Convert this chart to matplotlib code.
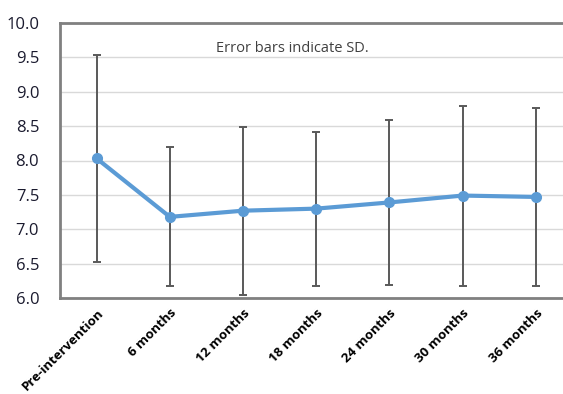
# time course of the mean score with SD error bars

import matplotlib.pyplot as plt
import numpy as np

labels = ["Pre-intervention", "6 months", "12 months", "18 months",
          "24 months", "30 months", "36 months"]
means = [8.03, 7.18, 7.27, 7.30, 7.39, 7.49, 7.47]
sds = [1.50, 1.01, 1.22, 1.12, 1.20, 1.31, 1.29]

plt.rcParams['font.family'] = ['Open Sans', 'DejaVu Sans']

fig = plt.figure(figsize=(5.63, 3.94), dpi=100)
ax = fig.add_axes([60 / 563, 1 - 298 / 394, (572.5 - 60) / 563, 275 / 394])

x = np.arange(len(labels))
ax.errorbar(x, means, yerr=sds, fmt="none", ecolor="#595959", elinewidth=1.4,
            capsize=3, capthick=1.4, zorder=2)
ax.plot(x, means, color="#5B9BD5", lw=3, marker="o", markersize=7, zorder=3)

ax.set_xlim(-0.5, 6.5)
ax.set_ylim(6.0, 10.0)
ax.set_yticks(np.arange(6.0, 10.01, 0.5))
ax.set_yticklabels([f"{v:.1f}" for v in np.arange(6.0, 10.01, 0.5)])
ax.yaxis.grid(True, color="#D9D9D9", lw=1)
ax.set_axisbelow(True)
ax.tick_params(axis="y", length=0, pad=15, labelsize=12, labelcolor="#1a1a2e")
ax.tick_params(axis="x", length=0, pad=6)

ax.set_xticks(x)
ax.set_xticklabels(labels, rotation=45, ha="right", rotation_mode="anchor",
                   fontsize=9.5, fontweight="bold", color="black")

for side in ["left", "top", "bottom"]:
    ax.spines[side].set_color("#808080")
    ax.spines[side].set_linewidth(2)
ax.spines["right"].set_visible(False)

ax.text(2.68, 9.63, "Error bars indicate SD.", fontsize=10.5, color="#404040", ha="center", va="center")

plt.savefig("out.png", dpi=100)
